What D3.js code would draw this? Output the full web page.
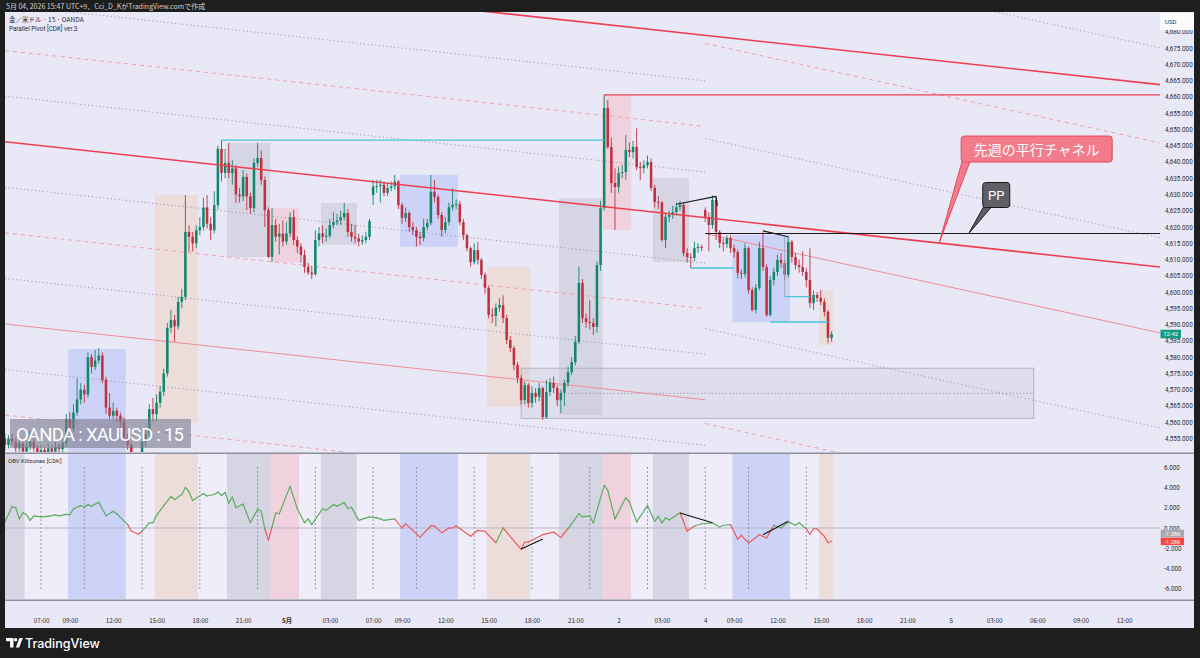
<!DOCTYPE html>
<html><head><meta charset="utf-8">
<script src="https://cdn.jsdelivr.net/npm/d3@7"></script>
<style>
html,body{margin:0;padding:0;background:#1e1e1e;overflow:hidden;}
svg{display:block;}
</style></head><body>
<svg id="c" width="1200" height="658"></svg>
<script>
// ---------------- DATA ----------------
const firstOpen = 4555;
const gapBars = [102, 194];
const gapOpens = [4629.8, 4625.2];
const closes = [4553,4555,4554,4552,4553.5,4551,4552.5,4554,4552,4550,
4551.5,4550.5,4552,4551,4552.5,4551.8,4553.5,4561,4558,4563,
4567,4570,4568.5,4580,4577,4579,4580.5,4573,4564.5,4562,
4563.5,4562,4560.3,4555.5,4553,4549,4546,4548,4554,4556.5,
4564,4562.5,4566,4569.4,4575,4589,4591.4,4589.5,4597,4598.5,
4618.5,4617,4615,4619,4620,4626,4621,4619,4626.7,4644,
4636.6,4639.7,4636.6,4638,4630,4629.4,4635.4,4629.4,4625.8,4639.7,
4641.2,4634.4,4625.2,4610.8,4620.6,4617,4618,4615.5,4618,4623,
4616,4614,4611.4,4607.7,4606,4605.5,4616,4618,4617,4617.3,
4620.6,4621.5,4622,4623,4624.3,4618.5,4617,4616.5,4615.5,4616,
4617,4621.8,4632.4,4632.6,4633,4630.5,4632,4632.5,4634,4626.7,
4622.8,4624.3,4620,4619,4617,4616.6,4620,4621.2,4630.8,4629.2,
4623.7,4619.1,4621.5,4626.1,4626.8,4627.1,4621.5,4617.5,4613.5,4609.2,
4612.9,4609.9,4605.3,4601.3,4593,4592.7,4595.2,4596,4592,4585.3,
4582.8,4577.6,4573.6,4566.8,4571.4,4565.9,4569,4567.8,4570.5,4561.6,
4569.3,4572.1,4570.5,4566.8,4569,4572.1,4575.4,4578.5,4584.7,4602.8,
4592,4590.8,4590.5,4589.3,4608.3,4625.8,4656.6,4644.6,4633.5,4632.3,
4636.6,4636.9,4643.7,4643,4644.6,4638.4,4638.1,4639,4640,4632,
4627.7,4627.5,4616,4623.1,4623.7,4624.6,4626.1,4626.8,4612,4610.8,
4610.5,4613.5,4613.9,4613.6,4623.1,4620.6,4628.3,4618.5,4615.1,4614.8,
4616.6,4613.5,4612.3,4605.9,4605.6,4613.5,4600.6,4594.5,4601.3,4613.5,
4607.7,4593,4603.7,4606.2,4609.9,4608.9,4605.3,4615.4,4610.8,4608.3,
4607.7,4606.2,4603.7,4596.6,4599.1,4598.2,4597,4593.9,4585.9,4587.1];
const highs = [4556.5,4556,4556.5,4555,4555,4554,4554,4557.5,4555,4553,
4553,4552.5,4553.5,4553,4554,4553.5,4555,4562.5,4563,4565.5,
4573.5,4572,4571.5,4581.5,4581,4582.2,4582.8,4581.5,4574,4569,
4566,4564.5,4563,4561.5,4556.5,4554,4550,4549.5,4555,4558,
4565.5,4567.5,4568.5,4571,4576.5,4590.5,4594.5,4593,4598.5,4601,
4629.8,4620.5,4618.5,4620.5,4623,4629,4629.8,4623,4631,4645,
4646.7,4644,4645.8,4640.5,4639,4632,4637.5,4636.5,4630.5,4641,
4645.9,4643.5,4635.5,4626,4625.8,4622.5,4621,4622,4621.5,4624.5,
4625.2,4617,4615,4613,4609,4608,4619,4620,4620.5,4619.5,
4622.5,4624.5,4624,4625,4627.4,4625.5,4621,4620.5,4618,4617.5,
4618.5,4622.5,4634.5,4634.5,4634.5,4634,4633.5,4634,4636,4634.5,
4627.5,4626,4625,4621.5,4620,4618.5,4622.5,4622.5,4636,4634.5,
4630,4624.5,4623,4627.5,4631.9,4628.5,4628,4622.5,4618,4614,
4615,4615.4,4610.5,4606,4602,4595,4596.5,4598.2,4599,4593,
4586.5,4583.5,4578.5,4574.5,4572.5,4572,4571,4570.5,4572,4571,
4573,4573.5,4574,4571.5,4570,4573,4577,4580,4586.5,4607.8,
4604,4593.5,4597.5,4592,4609.5,4628,4660.6,4659,4647.5,4638,
4638.5,4639,4648.3,4646,4646.5,4650.3,4640,4640.5,4642,4641,
4633,4629.5,4628,4624,4625,4626.5,4627.5,4628,4627.5,4613.5,
4612,4615.5,4615,4614.5,4626,4624.5,4629.8,4629,4619,4616.5,
4617.5,4617.5,4614.5,4613,4607,4615,4614,4601.5,4602.5,4615.5,
4618.6,4608.5,4605,4607.5,4611.5,4612,4610,4617,4616,4612,
4610,4612.5,4607.5,4613.5,4600.5,4600,4600.6,4598,4594.5,4588];
const lows = [4551.5,4552,4553,4550.5,4551,4549.5,4550,4551.5,4551,4548.5,
4549,4549,4549.5,4549.5,4550,4550.5,4550.8,4552.5,4556.5,4557,
4562,4565.5,4566,4567.5,4575,4576,4578,4572,4562.5,4561,
4561,4560,4558.5,4554,4551.5,4546.5,4544,4544.5,4547,4552.5,
4555.5,4560,4560.5,4564.5,4568,4574,4587.5,4584.7,4588.5,4595,
4597.5,4612.4,4612.5,4613.5,4617.5,4619,4619.5,4616,4618,4625.5,
4634,4635,4635,4633,4627.4,4627.5,4628,4625.2,4624,4624.5,
4638.5,4633,4620,4610.5,4609.3,4615.5,4611.5,4614,4614.5,4617,
4614.5,4612,4609,4605.9,4605.3,4604,4605,4614,4615,4615.5,
4616.5,4619.5,4620.5,4620.5,4622,4617,4615.5,4615,4614,4614.5,
4615,4616,4626.8,4630.5,4627.5,4629.5,4629.5,4631,4631.5,4625.5,
4621,4621.5,4618.5,4617.5,4614,4614.5,4615.5,4619,4620.5,4627.5,
4622.5,4617,4618,4620.5,4625,4625.5,4620.5,4616,4612.5,4607.8,
4608.5,4608.5,4604,4599.5,4592,4590.5,4589.5,4594,4590.5,4584,
4581.5,4576,4572,4565.5,4565.5,4564.5,4564.5,4566,4566.5,4560.7,
4561,4568,4569,4565,4562.8,4565,4571,4574.5,4577.5,4584,
4590.5,4589,4588.5,4586.8,4587.5,4606.5,4625,4644,4630.5,4619.1,
4630.5,4635,4634.5,4641.5,4641,4637.5,4634.4,4636.5,4638,4631,
4626,4625.5,4615.5,4613.5,4621.5,4622.5,4623.5,4625,4611,4609,
4607.4,4609.5,4612,4612.5,4621.5,4612.5,4619.5,4616,4613.5,4612.5,
4613.5,4612,4610.5,4604.2,4604,4604.5,4599.5,4594,4593.5,4600.5,
4606.5,4592.4,4592.5,4602,4605,4607.5,4603.5,4604.5,4609,4607,
4606,4605,4601.5,4595.1,4594.5,4597,4596,4592.5,4584.3,4584.7];

// sessions (killzones)
const sessStart = [0,6,18,34,42,54,62,74,82,88,98,110,126,134,146,154,166,174,180,190,202,218,226];
const sessEnd   = [5,17,33,41,53,61,73,81,87,97,109,125,133,145,153,165,173,179,189,201,217,225,229];
const sessType  = ["asia","none","london","none","ny","none","asia","late","none","asia","none","london","none","ny","none","asia","late","none","asia","none","london","none","ny"];
const sessTop   = [null,null,4582.5,null,4629.8,null,4645.8,4625.8,null,4627.4,null,4636,null,4607.7,null,4628.9,4660.6,null,4635,null,4617.5,null,4600.6];
const sessBot   = [null,null,4548,null,4559.8,null,4610.8,4609.2,null,4614.5,null,4613.9,null,4564.7,null,4562.2,4619.1,null,4609.2,null,4590.8,null,4583.7];

// channel lines: [bar0, price0, bar1, price1]
const chanLines = [[0,4702.25,320,4663.75],[0,4688.24,194,4664.9],[0,4674.23,194,4650.9],[0,4660.22,194,4636.9],
  [0,4646.2,320,4607.7],[0,4632.2,194,4608.9],[0,4618.2,194,4594.9],[0,4604.2,194,4580.9],
  [0,4590.2,194,4566.9],[0,4576.2,194,4552.9],[0,4562.2,194,4538.9],[0,4548.2,194,4524.9],
  [194,4705.6,320,4675.05],[194,4676.4,320,4645.85],[194,4647.2,320,4616.65],[194,4618,320,4587.45],
  [194,4588.8,320,4558.25],[194,4559.6,320,4529.05]];
const chanKinds = ["red","dot","dash","dot","red","dot","dash","dot","thin","dot","dash","dot",
  "dot","dash","dot","thin","dot","dash"];

// horizontal levels: [bar0, bar1, price]
const cyanLevels = [[60,166,4646.7],[190,202,4607.4],[212,228,4590.8],[216,223,4598.6]];
const redLevel = [166,320,4660.6];
const ppLevel = [194,320,4618];
const blackLines = [[186,4627,197,4629.4],[197,4629.4,197.3,4626.4],[210,4618.8,217,4617]];
const zone = {b0:143,b1:285,top:4576.6,bot:4561.2,mid:4568.9,midStart:156};

// OBV
const obvBars = [0,2,3,4,5,6,7,8,10,12,14,15,17,18,19,21,22,23,24,26,28,30,31,34,35,37,38,40,41,42,44,46,47,49,50,51,52,55,56,58,59,60,61,62,63,64,66,68,70,71,72,73,74,75,76,79,81,83,84,85,88,89,91,92,94,95,96,98,101,103,104,105,108,110,111,115,118,119,121,123,124,125,129,131,133,136,138,143,144,145,149,152,154,156,159,160,162,163,166,167,169,172,173,175,178,180,181,182,183,184,187,189,191,193,196,198,199,201,203,204,206,209,211,213,215,217,219,220,222,223,224,225,227,228,229];
const obvVals = [0.6,2.1,2.0,0.9,1.5,1.3,0.75,1.2,1.1,1.15,1.3,1.2,1.35,1.3,1.9,2.2,2.05,2.3,2.15,2.55,1.2,1.65,1.4,0.33,-0.3,-0.62,-0.3,0.5,0.52,1.25,2.2,3.1,2.8,3.3,4.0,3.55,2.7,3.4,3.15,3.3,3.55,3.2,3.5,2.45,3.05,2.0,2.35,0.52,1.85,1.65,-0.07,-1.2,0.1,1.5,1.4,4.1,1.9,0.52,0.9,0.33,1.9,1.75,2.3,2.15,2.5,1.9,2.05,0.75,1.1,1.0,0.9,0.75,0.9,0.0,0.42,-0.9,0.2,0.2,-0.46,0,0,0.2,-0.82,-0.23,-0.33,-1.45,0,-2.1,-1.38,-1.38,-0.66,-0.4,-0.95,-0.07,1.4,1.1,1.2,0.5,4.2,3.7,0.9,3.0,2.55,0.6,2.2,0.66,1.15,0.5,1.0,0.8,1.5,-0.3,0.2,0.42,0.5,0.1,0.27,0.33,-1.1,-0.72,-1.48,-0.66,-0.98,0.27,0,0.6,0.27,0.52,-0.07,-0.62,-0.07,-0.1,-0.82,-1.45,-1.286];
const obvRedFrom = [34,72,108,138,187,201,221];
const obvRedTo   = [38,74,136,156,191,213,230];
const obvBlack = [[143,-2.07,149,-1.08],[187,1.48,196,0.52],[210,-0.66,217,0.66]];
const obvVBars = [10,22,38,54,70,86,102,114,130,146,162,178,194,206,222];
const obvLast = -1.286;
const lastPrice = 4587.1;

// axes
const priceTicks = d3.range(4555, 4681, 5);
const obvTicks = [-6,-4,-2,0,2,4,6];
const tickBars = [10,18,30,42,54,66,78,90,102,110,122,134,146,158,170,182,194,202,214,226,238,250,262,274,286,298,310];
const tickLabels = ["07:00","09:00","12:00","15:00","18:00","21:00","5月","03:00","07:00","09:00","12:00","15:00","18:00","21:00","2","03:00","4","09:00","12:00","15:00","18:00","21:00","5","03:00","06:00","09:00","12:00"];

// ---------------- DRAW ----------------
const FONT = "Roboto, 'Noto Sans', 'Noto Sans CJK JP', sans-serif";
const JFONT = "'Noto Sans CJK JP', 'Noto Sans', sans-serif";
const svg = d3.select("#c");
const x = d3.scaleLinear().domain([0,320]).range([4.9,1160.1]);
const y = d3.scaleLinear().domain([4555,4680]).range([438.5,31.76]);
const yo = d3.scaleLinear().domain([-6,6]).range([588.9,467.1]);
const step = x(1)-x(0);
const BG = "#e9e8f7";
const sessColor = {asia:"#d5d5e3", london:"#ccd3f7", ny:"#ecdcda", late:"#efd2de", none:"#eeedf9"};
const UP = "#13876c", DN = "#c2303f";

svg.append("rect").attr("width",1200).attr("height",658).attr("fill","#1e1e1e");
svg.append("rect").attr("x",5).attr("y",12).attr("width",1189).attr("height",616).attr("fill",BG);

const defs = svg.append("defs");
defs.append("clipPath").attr("id","cm").append("rect").attr("x",5).attr("y",12).attr("width",1155).attr("height",440);
defs.append("clipPath").attr("id","co").append("rect").attr("x",5).attr("y",454).attr("width",1155).attr("height",145);

// header
svg.append("text").attr("x",6).attr("y",8.6).attr("font-size",7).attr("fill","#cfcfcf").attr("font-family",JFONT)
  .text("5月 04, 2026 15:47 UTC+9、Cci_D_KがTradingView.comで作成");

// ---- main pane
const gm = svg.append("g").attr("clip-path","url(#cm)");

sessType.forEach((t,i)=>{
  if (sessTop[i]==null) return;
  gm.append("rect").attr("x",x(sessStart[i]-0.5)).attr("width",x(sessEnd[i]+0.5)-x(sessStart[i]-0.5))
    .attr("y",y(sessTop[i])).attr("height",y(sessBot[i])-y(sessTop[i])).attr("fill",sessColor[t]);
});

gm.append("rect").attr("x",x(zone.b0)).attr("width",x(zone.b1)-x(zone.b0))
  .attr("y",y(zone.top)).attr("height",y(zone.bot)-y(zone.top))
  .attr("fill","#c8c8d4").attr("fill-opacity",0.3).attr("stroke","#b2b2c0").attr("stroke-width",1);
gm.append("line").attr("x1",x(zone.midStart)).attr("x2",x(zone.b1)).attr("y1",y(zone.mid)).attr("y2",y(zone.mid))
  .attr("stroke","#9a9aac").attr("stroke-dasharray","1.5,2").attr("stroke-width",0.9);

const styleOf = {
  dot:{s:"#9494a8",w:0.9,d:"1.2,2.6"},
  dash:{s:"#f0a0ac",w:1,d:"4,4"},
  thin:{s:"#ef8e99",w:1,d:null},
  red:{s:"#ee3f51",w:1.6,d:null}
};
chanLines.forEach((l,i)=>{
  if (chanKinds[i]==="red") return;
  const st = styleOf[chanKinds[i]];
  gm.append("line").attr("x1",x(l[0])).attr("y1",y(l[1])).attr("x2",x(l[2])).attr("y2",y(l[3]))
    .attr("stroke",st.s).attr("stroke-width",st.w).attr("stroke-dasharray",st.d);
});

const opens = closes.map((c,i)=>{ const g = gapBars.indexOf(i); return g>=0 ? gapOpens[g] : (i===0 ? firstOpen : closes[i-1]); });
const gc = gm.append("g");
closes.forEach((c,i)=>{
  const o = opens[i], col = c>=o ? UP : DN;
  gc.append("line").attr("x1",x(i)).attr("x2",x(i)).attr("y1",y(highs[i])).attr("y2",y(lows[i]))
    .attr("stroke",col).attr("stroke-width",0.9);
  const top = y(Math.max(o,c)), bot = y(Math.min(o,c));
  gc.append("rect").attr("x",x(i)-step*0.35).attr("width",step*0.7).attr("y",top).attr("height",Math.max(0.9,bot-top)).attr("fill",col);
});

chanLines.forEach((l,i)=>{
  if (chanKinds[i]!=="red") return;
  const st = styleOf.red;
  gm.append("line").attr("x1",x(l[0])).attr("y1",y(l[1])).attr("x2",x(l[2])).attr("y2",y(l[3]))
    .attr("stroke",st.s).attr("stroke-width",st.w);
});

cyanLevels.forEach(l=>{
  gm.append("line").attr("x1",x(l[0])).attr("x2",x(l[1])).attr("y1",y(l[2])).attr("y2",y(l[2]))
    .attr("stroke","#46c6dc").attr("stroke-width",1.3);
});
gm.append("line").attr("x1",x(216)).attr("x2",x(216)).attr("y1",y(4617)).attr("y2",y(4598.6)).attr("stroke","#9aa6b8").attr("stroke-width",0.8);
gm.append("line").attr("x1",x(redLevel[0])).attr("x2",x(redLevel[1])).attr("y1",y(redLevel[2])).attr("y2",y(redLevel[2]))
  .attr("stroke","#ee3f51").attr("stroke-width",1.4);
gm.append("line").attr("x1",x(ppLevel[0])).attr("x2",x(ppLevel[1])).attr("y1",y(ppLevel[2])).attr("y2",y(ppLevel[2]))
  .attr("stroke","#1a1a1a").attr("stroke-width",1.2);
blackLines.forEach(l=>{
  gm.append("line").attr("x1",x(l[0])).attr("y1",y(l[1])).attr("x2",x(l[2])).attr("y2",y(l[3]))
    .attr("stroke","#1a1a1a").attr("stroke-width",1.2);
});

// watermark symbol box
gm.append("rect").attr("x",10).attr("y",419).attr("width",181).attr("height",29).attr("fill","#7e7e90").attr("fill-opacity",0.62);
gm.append("text").attr("x",16).attr("y",441).attr("font-size",18.5).attr("fill","#ffffff").attr("font-family",FONT)
  .attr("textLength",168).attr("lengthAdjust","spacing")
  .text("OANDA : XAUUSD : 15");

// callouts
const tip1 = [x(258.8), y(4615.07)];
const b1 = {x: tip1[0]+22, y: tip1[1]-107, w:151, h:26};
gm.append("path").attr("d",`M${b1.x+1},${b1.y+b1.h-1} L${tip1[0]},${tip1[1]} L${b1.x+9},${b1.y+b1.h-1}Z`)
  .attr("fill","#f27c8c").attr("stroke","#e8455a").attr("stroke-width",1);
gm.append("rect").attr("x",b1.x).attr("y",b1.y).attr("width",b1.w).attr("height",b1.h).attr("rx",3)
  .attr("fill","#f27c8c").attr("stroke","#e8455a").attr("stroke-width",1);
gm.append("path").attr("d",`M${b1.x+1.5},${b1.y+b1.h-1.5} L${b1.x+8.5},${b1.y+b1.h-1.5}`).attr("stroke","#f27c8c").attr("stroke-width",2);
gm.append("text").attr("x",b1.x+b1.w/2).attr("y",b1.y+18.5).attr("text-anchor","middle").attr("font-size",14)
  .attr("fill","#ffffff").attr("font-family",JFONT).text("先週の平行チャネル");

const tip2 = [x(267), y(4618)];
const b2 = {x: tip2[0]+14, y: tip2[1]-51, w:27, h:25};
gm.append("path").attr("d",`M${b2.x+1},${b2.y+b2.h-1} L${tip2[0]},${tip2[1]} L${b2.x+9},${b2.y+b2.h-1}Z`)
  .attr("fill","#5f5f68").attr("stroke","#1a1a1a").attr("stroke-width",1);
gm.append("rect").attr("x",b2.x).attr("y",b2.y).attr("width",b2.w).attr("height",b2.h).attr("rx",3)
  .attr("fill","#5f5f68").attr("stroke","#1a1a1a").attr("stroke-width",1);
gm.append("path").attr("d",`M${b2.x+1.5},${b2.y+b2.h-1.5} L${b2.x+8.5},${b2.y+b2.h-1.5}`).attr("stroke","#5f5f68").attr("stroke-width",2);
gm.append("text").attr("x",b2.x+b2.w/2).attr("y",b2.y+17.5).attr("text-anchor","middle").attr("font-size",13)
  .attr("fill","#ffffff").attr("font-family",FONT).text("PP");

// legend
svg.append("text").attr("x",9).attr("y",21.5).attr("font-size",6.5).attr("fill","#2a2a35").attr("font-family",JFONT).text("金／米ドル · 15 · OANDA");
svg.append("text").attr("x",9).attr("y",30.5).attr("font-size",6.3).attr("fill","#2a2a35").attr("font-family",FONT).text("Parallel Pivot [CDK] ver.3");

// ---- OBV pane
const go = svg.append("g").attr("clip-path","url(#co)");
sessType.forEach((t,i)=>{
  go.append("rect").attr("x",x(sessStart[i]-0.5)).attr("width",x(sessEnd[i]+0.5)-x(sessStart[i]-0.5))
    .attr("y",454).attr("height",146).attr("fill",sessColor[t]);
});
obvVBars.forEach(b=>{
  go.append("line").attr("x1",x(b)).attr("x2",x(b)).attr("y1",467).attr("y2",590)
    .attr("stroke","#85859a").attr("stroke-width",0.8).attr("stroke-dasharray","2,2");
});
go.append("line").attr("x1",5).attr("x2",1160).attr("y1",yo(0)).attr("y2",yo(0)).attr("stroke","#b7b7c8").attr("stroke-width",1);
for (let i=0;i<obvBars.length-1;i++){
  const s = obvBars[i];
  let red = false;
  obvRedFrom.forEach((f,k)=>{ if (s>=f && s<obvRedTo[k]) red = true; });
  go.append("line").attr("x1",x(obvBars[i])).attr("y1",yo(obvVals[i])).attr("x2",x(obvBars[i+1])).attr("y2",yo(obvVals[i+1]))
    .attr("stroke",red?"#ee5a5a":"#5cad5f").attr("stroke-width",1.2).attr("stroke-linecap","round");
}
obvBlack.forEach(l=>{
  go.append("line").attr("x1",x(l[0])).attr("y1",yo(l[1])).attr("x2",x(l[2])).attr("y2",yo(l[3]))
    .attr("stroke","#151515").attr("stroke-width",1.2);
});
svg.append("text").attr("x",8).attr("y",463).attr("font-size",6).attr("fill","#2a2a35").attr("font-family",FONT).text("OBV Killzones [CDK]");

// separators
svg.append("line").attr("x1",5).attr("x2",1194).attr("y1",453.2).attr("y2",453.2).attr("stroke","#8e8e9e").attr("stroke-width",1.6);
svg.append("line").attr("x1",5).attr("x2",1194).attr("y1",600.2).attr("y2",600.2).attr("stroke","#8e8e9e").attr("stroke-width",1.6);

// price axis
const pa = svg.append("g").attr("transform","translate(1165,0)")
  .call(d3.axisRight(y).tickValues(priceTicks).tickFormat(d3.format(",.3f")).tickSize(0).tickPadding(0));
pa.select(".domain").remove();
pa.selectAll("text").attr("font-size",6.3).attr("fill","#2b2b36").attr("font-family",FONT);
svg.append("rect").attr("x",1160).attr("y",13).attr("width",34).attr("height",17).attr("fill","#fbfbfd");
svg.append("text").attr("x",1165).attr("y",23.5).attr("font-size",6).attr("fill","#2b2b36").attr("font-family",FONT).text("USD");
const ly = y(lastPrice);
svg.append("rect").attr("x",1160.5).attr("y",ly-4.3).attr("width",20.5).attr("height",8.6).attr("fill","#139a80");
svg.append("text").attr("x",1170.7).attr("y",ly+2.2).attr("text-anchor","middle").attr("font-size",6).attr("fill","#ffffff").attr("font-family",FONT).text("12:42");

// OBV axis
const oa = svg.append("g").attr("transform","translate(1164,0)")
  .call(d3.axisRight(yo).tickValues(obvTicks).tickFormat(d=>d3.format(".3f")(d).replace("\u2212","-")).tickSize(0).tickPadding(0));
oa.select(".domain").remove();
oa.selectAll("text").attr("font-size",6.3).attr("fill","#2b2b36").attr("font-family",FONT);
const oy = yo(obvLast);
svg.append("rect").attr("x",1160.7).attr("y",oy-11.4).attr("width",23.3).attr("height",7.4).attr("fill","#a9a9b4");
svg.append("text").attr("x",1172.3).attr("y",oy-5.5).attr("text-anchor","middle").attr("font-size",5.6).attr("fill","#ffffff").attr("font-family",FONT).text(d3.format(".3f")(obvLast).replace("\u2212","-"));
svg.append("rect").attr("x",1160.7).attr("y",oy-3.5).attr("width",23.3).attr("height",7.6).attr("fill","#f04646");
svg.append("text").attr("x",1172.3).attr("y",oy+2.5).attr("text-anchor","middle").attr("font-size",5.6).attr("fill","#ffffff").attr("font-family",FONT).text(d3.format(".3f")(obvLast).replace("\u2212","-"));

// time axis
const ta = svg.append("g").attr("transform","translate(0,619)")
  .call(d3.axisBottom(x).tickValues(tickBars).tickFormat((d,i)=>tickLabels[i]).tickSize(0).tickPadding(0));
ta.select(".domain").remove();
ta.selectAll("text").attr("font-size",6.3).attr("fill","#2b2b36").attr("font-family",JFONT)
  .attr("font-weight",(d,i)=> tickLabels[i]==="5月" ? "bold" : "normal");

// bottom frame + logo
svg.append("rect").attr("x",0).attr("y",628).attr("width",1200).attr("height",30).attr("fill","#1e1e1e");
svg.append("path").attr("d","M6,638 h7.5 v9.5 h-3.4 v-6.3 h-4.1z").attr("fill","#ffffff");
svg.append("circle").attr("cx",15.6).attr("cy",639.8).attr("r",1.7).attr("fill","#ffffff");
svg.append("path").attr("d","M15.8,647.5 l3.6,-9.5 h3.4 l-3.6,9.5z").attr("fill","#ffffff");
svg.append("text").attr("x",25).attr("y",647.6).attr("font-size",12.5).attr("font-weight",500).attr("fill","#ffffff").attr("font-family","Inter, Roboto, sans-serif").text("TradingView");
</script>
</body></html>
